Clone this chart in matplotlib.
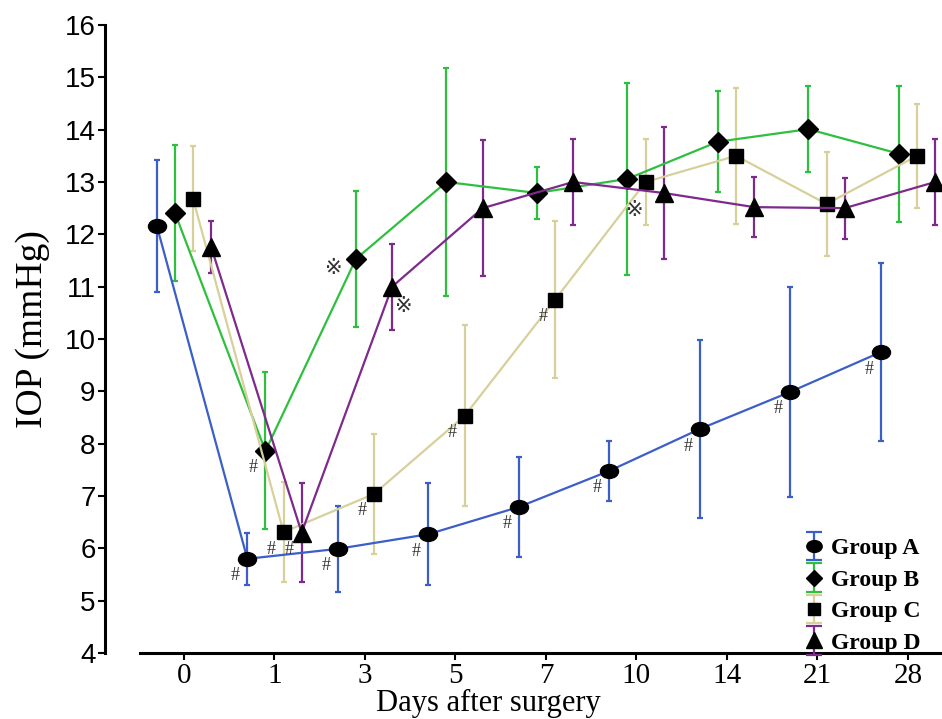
import numpy as np
import matplotlib.pyplot as plt
from matplotlib.path import Path
from matplotlib.transforms import Affine2D
from matplotlib.lines import Line2D
from matplotlib.container import ErrorbarContainer
from matplotlib.legend_handler import HandlerTuple, HandlerErrorbar

# --- Datos ----------------------------------------------------------------------
days = ['0', '1', '3', '5', '7', '10', '14', '21', '28']

a_mean = [12.16, 5.80, 5.99, 6.27, 6.79, 7.48, 8.28, 8.99, 9.75]
a_err = [1.26, 0.50, 0.82, 0.97, 0.95, 0.58, 1.70, 2.00, 1.70]
b_mean = [12.41, 7.86, 11.53, 13.00, 12.79, 13.06, 13.77, 14.01, 13.54]
b_err = [1.30, 1.50, 1.30, 2.17, 0.50, 1.83, 0.97, 0.82, 1.30]
c_mean = [12.68, 6.31, 7.04, 8.53, 10.75, 13.00, 13.50, 12.58, 13.50]
c_err = [1.00, 0.95, 1.15, 1.73, 1.50, 0.82, 1.30, 1.00, 1.00]
d_mean = [11.76, 6.30, 11.00, 12.50, 13.00, 12.79, 12.52, 12.50, 13.00]
d_err = [0.50, 0.95, 0.82, 1.30, 0.82, 1.27, 0.58, 0.58, 0.82]

labels = ['Group A', 'Group B', 'Group C', 'Group D']
colors = ['#3b5ec8', '#2fbf3f', '#d7d09a', '#7e2a8c']

# marcas de significancia (indices de dia)
hash_a = [1, 2, 3, 4, 5, 6, 7, 8]
hash_b = [1]
hash_c = [1, 2, 3, 4]
hash_d = [1]

# --- Estilos ---------------------------------------------------------------------
ellipse = Path.unit_circle().transformed(Affine2D().scale(1.3, 1.0))
markers = [ellipse, 'D', 's', '^']
msizes = [13, 10, 10, 13]
offsets = [-0.3, -0.1, 0.1, 0.3]

means = [a_mean, b_mean, c_mean, d_mean]
errs = [a_err, b_err, c_err, d_err]

fig = plt.figure(figsize=(9.42, 7.19), dpi=100)
ax = fig.add_axes([140/942, 66/719, 802/942, 628/719])

# spines primero (set_position resetea los ticks)
for s in ['top', 'right']:
    ax.spines[s].set_visible(False)
ax.spines['left'].set_position(('outward', 25))
ax.spines['left'].set_linewidth(2.2)
ax.spines['bottom'].set_linewidth(2.2)

x = np.arange(len(days))
handles = []
for ii in range(4):
    xs = x + offsets[ii]
    ax.errorbar(xs, means[ii], yerr=errs[ii], fmt='none', ecolor=colors[ii],
                elinewidth=1.6, capsize=2, capthick=1.6, zorder=2)
    ax.plot(xs, means[ii], color=colors[ii], lw=1.6, marker=markers[ii], ms=msizes[ii],
            mfc='black', mec='black', zorder=3)
    # proxies para la leyenda
    eb = ax.errorbar([np.nan], [np.nan], yerr=[1], fmt='none', ecolor=colors[ii],
                     elinewidth=1.6, capsize=5.5, capthick=1.6)
    mk = Line2D([], [], marker=markers[ii], color='black', ls='none', ms=msizes[ii] * 0.85)
    handles.append((eb, mk))

# --- Anotaciones # y ※ ------------------------------------------------------------
hash_font = dict(family='Liberation Serif', fontsize=13, color='#333333', ha='center', va='center')
for gi, idxs in [(0, hash_a), (1, hash_b), (2, hash_c), (3, hash_d)]:
    for i in idxs:
        ax.annotate('#', (x[i] + offsets[gi], means[gi][i]), xytext=(-12, -17),
                    textcoords='offset pixels', **hash_font)

ref_font = dict(family=['Liberation Serif', 'DejaVu Sans'], fontsize=15, color='#333333',
                ha='center', va='center')
ax.annotate('※', (x[2] + offsets[1], b_mean[2]), xytext=(-22, -11), textcoords='offset pixels', **ref_font)
ax.annotate('※', (x[2] + offsets[3], d_mean[2]), xytext=(12, -21), textcoords='offset pixels', **ref_font)
ax.annotate('※', (x[5] + offsets[2], c_mean[5]), xytext=(-11, -30), textcoords='offset pixels', **ref_font)

# --- Ejes --------------------------------------------------------------------------
ax.set_xlim(-0.486, 8.376)
ax.set_ylim(4, 16)
ax.set_xticks(x)
ax.set_xticklabels(days, family='Liberation Serif', fontsize=21)
ax.set_yticks(np.arange(4, 17, 1))
ax.set_yticklabels([str(v) for v in range(4, 17)], family='Liberation Sans', fontsize=20)

ax.tick_params(axis='both', width=1.5, length=5, direction='out', colors='black')
ax.tick_params(axis='x', pad=2)
ax.tick_params(axis='y', pad=2)

ax.set_ylabel('IOP (mmHg)', family='Liberation Serif', fontsize=27)
ax.yaxis.set_label_coords(-0.112, 0.516)
ax.set_xlabel('Days after surgery', family='Liberation Serif', fontsize=22, va='bottom')
ax.xaxis.set_label_coords(0.435, -0.1035)

leg = ax.legend(handles, labels,
                handler_map={tuple: HandlerTuple(ndivide=1),
                             ErrorbarContainer: HandlerErrorbar(yerr_size=0.6)},
                loc='lower right', bbox_to_anchor=(1.0, -0.035), frameon=False,
                prop=dict(family='Liberation Serif', weight='bold', size=17),
                handlelength=0.9, handletextpad=0.3, labelspacing=0.42)

fig.savefig('out.png', dpi=100)
